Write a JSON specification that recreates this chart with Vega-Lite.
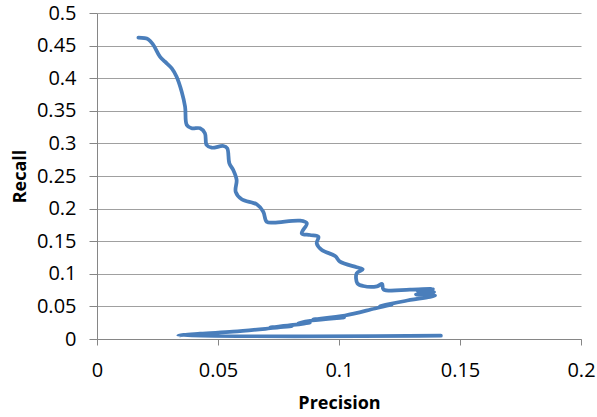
{
  "$schema": "https://vega.github.io/schema/vega-lite/v6.json",
  "autosize": "none",
  "width": 484,
  "height": 326,
  "padding": {"left": 97, "top": 13, "right": 16, "bottom": 78},
  "background": "white",
  "config": {
    "view": {"stroke": null},
    "font": "Open Sans"
  },
  "data": {
    "values": [
      {"i": 1, "p": 0.0171, "r": 0.4621},
      {"i": 2, "p": 0.0212, "r": 0.4597},
      {"i": 3, "p": 0.0233, "r": 0.4509},
      {"i": 4, "p": 0.0260, "r": 0.4330},
      {"i": 5, "p": 0.0281, "r": 0.4253},
      {"i": 6, "p": 0.0309, "r": 0.4152},
      {"i": 7, "p": 0.0329, "r": 0.4023},
      {"i": 8, "p": 0.0350, "r": 0.3793},
      {"i": 9, "p": 0.0364, "r": 0.3563},
      {"i": 10, "p": 0.0371, "r": 0.3282},
      {"i": 11, "p": 0.0391, "r": 0.3232},
      {"i": 12, "p": 0.0426, "r": 0.3232},
      {"i": 13, "p": 0.0446, "r": 0.3155},
      {"i": 14, "p": 0.0453, "r": 0.2975},
      {"i": 15, "p": 0.0474, "r": 0.2934},
      {"i": 16, "p": 0.0522, "r": 0.2960},
      {"i": 17, "p": 0.0538, "r": 0.2925},
      {"i": 18, "p": 0.0547, "r": 0.2695},
      {"i": 19, "p": 0.0563, "r": 0.2592},
      {"i": 20, "p": 0.0577, "r": 0.2439},
      {"i": 21, "p": 0.0573, "r": 0.2259},
      {"i": 22, "p": 0.0598, "r": 0.2143},
      {"i": 23, "p": 0.0660, "r": 0.2066},
      {"i": 24, "p": 0.0687, "r": 0.1952},
      {"i": 25, "p": 0.0701, "r": 0.1799},
      {"i": 26, "p": 0.0729, "r": 0.1784},
      {"i": 27, "p": 0.0839, "r": 0.1814},
      {"i": 28, "p": 0.0867, "r": 0.1775},
      {"i": 29, "p": 0.0846, "r": 0.1621},
      {"i": 30, "p": 0.0880, "r": 0.1595},
      {"i": 31, "p": 0.0915, "r": 0.1569},
      {"i": 32, "p": 0.0908, "r": 0.1468},
      {"i": 33, "p": 0.0929, "r": 0.1365},
      {"i": 34, "p": 0.0984, "r": 0.1273},
      {"i": 35, "p": 0.1004, "r": 0.1186},
      {"i": 36, "p": 0.1073, "r": 0.1100},
      {"i": 37, "p": 0.1098, "r": 0.1069},
      {"i": 38, "p": 0.1073, "r": 0.1008},
      {"i": 39, "p": 0.1076, "r": 0.0854},
      {"i": 40, "p": 0.1100, "r": 0.0813},
      {"i": 41, "p": 0.1157, "r": 0.0808},
      {"i": 42, "p": 0.1178, "r": 0.0844},
      {"i": 43, "p": 0.1184, "r": 0.0759},
      {"i": 44, "p": 0.1293, "r": 0.0756},
      {"i": 45, "p": 0.1388, "r": 0.0767},
      {"i": 46, "p": 0.1326, "r": 0.0729},
      {"i": 47, "p": 0.1393, "r": 0.0721},
      {"i": 48, "p": 0.1318, "r": 0.0683},
      {"i": 49, "p": 0.1397, "r": 0.0667},
      {"i": 50, "p": 0.1273, "r": 0.0583},
      {"i": 51, "p": 0.1169, "r": 0.0502},
      {"i": 52, "p": 0.1219, "r": 0.0529},
      {"i": 53, "p": 0.1149, "r": 0.0468},
      {"i": 54, "p": 0.1025, "r": 0.0360},
      {"i": 55, "p": 0.0893, "r": 0.0299},
      {"i": 56, "p": 0.1021, "r": 0.0330},
      {"i": 57, "p": 0.0888, "r": 0.0284},
      {"i": 58, "p": 0.0831, "r": 0.0245},
      {"i": 59, "p": 0.0880, "r": 0.0253},
      {"i": 60, "p": 0.0810, "r": 0.0215},
      {"i": 61, "p": 0.0715, "r": 0.0176},
      {"i": 62, "p": 0.0806, "r": 0.0199},
      {"i": 63, "p": 0.0707, "r": 0.0161},
      {"i": 64, "p": 0.0562, "r": 0.0112},
      {"i": 65, "p": 0.0426, "r": 0.0081},
      {"i": 66, "p": 0.0336, "r": 0.0051},
      {"i": 67, "p": 0.1421, "r": 0.0051}
    ]
  },
  "mark": {"type": "line", "interpolate": "catmull-rom", "color": "#4A7EBB", "strokeWidth": 3.75, "strokeCap": "round", "strokeJoin": "round"},
  "encoding": {
    "x": {
      "field": "p", "type": "quantitative",
      "scale": {"domain": [0, 0.2], "nice": false},
      "axis": {
        "title": "Precision", "values": [0, 0.05, 0.1, 0.15, 0.2], "format": "~g",
        "grid": false, "domainColor": "#868686", "tickColor": "#868686", "tickSize": 6,
        "labelFlush": false, "labelOverlap": false,
        "labelFont": "Open Sans", "labelFontSize": 20, "labelColor": "#000000", "labelPadding": 15,
        "titleFont": "Open Sans", "titleFontSize": 18, "titleFontWeight": "bold", "titleColor": "#000000", "titlePadding": 14
      }
    },
    "y": {
      "field": "r", "type": "quantitative",
      "scale": {"domain": [0, 0.5], "nice": false},
      "axis": {
        "title": "Recall", "values": [0, 0.05, 0.1, 0.15, 0.2, 0.25, 0.3, 0.35, 0.4, 0.45, 0.5], "format": "~g",
        "grid": true, "gridColor": "#a0a0a0", "gridWidth": 1,
        "domainColor": "#868686", "tickColor": "#868686", "tickSize": 8,
        "labelFlush": false, "labelOverlap": false,
        "labelFont": "Open Sans", "labelFontSize": 20, "labelColor": "#000000", "labelPadding": 13,
        "titleFont": "Open Sans", "titleFontSize": 18, "titleFontWeight": "bold", "titleColor": "#000000", "titlePadding": 7
      }
    },
    "order": {"field": "i", "type": "quantitative"}
  }
}
